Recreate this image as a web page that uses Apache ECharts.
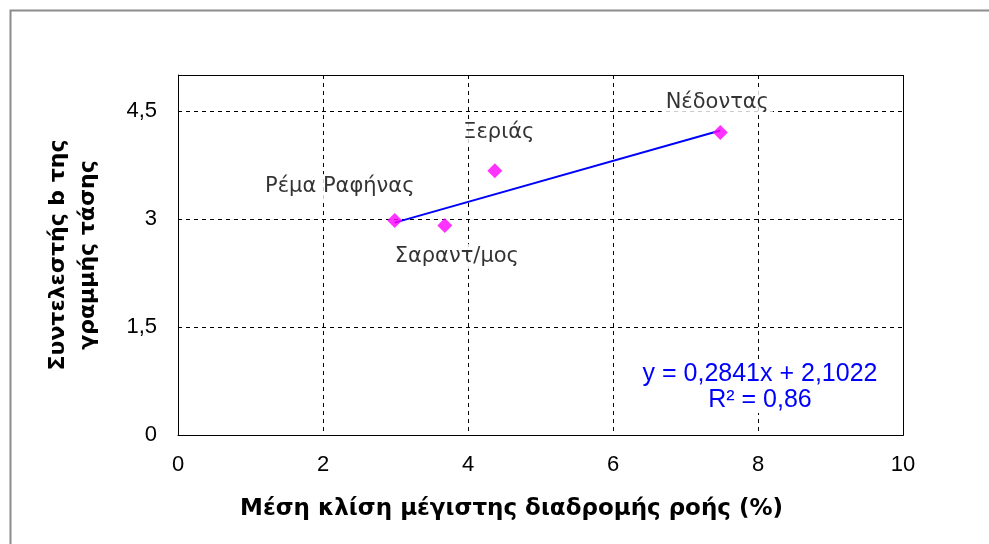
<!DOCTYPE html>
<html>
<head>
<meta charset="utf-8">
<script src="https://cdn.jsdelivr.net/npm/echarts@6/dist/echarts.min.js"></script>
<style>
  html, body { margin: 0; padding: 0; background: #fff; }
  #chart { width: 989px; height: 544px; }
</style>
</head>
<body>
<div id="chart"></div>
<script>
// stations (slope %, coefficient b)
const names = ["Ρέμα Ραφήνας", "Σαραντ/μος", "Ξεριάς", "Νέδοντας"];
const slopes = [2.99, 3.68, 4.37, 7.48];
const coefB = [2.98, 2.91, 3.67, 4.20];
// label placement around each point
const labelPos = ["top", "bottom", "top", "top"];
const labelOff = [[-55, 0], [12, 0], [4, 0], [-3, 0]];
const labelDist = [14, 11, 18, 10];
// trend line ends
const trendX = [2.99, 7.48];
const trendY = [2.95, 4.23];

const chart = echarts.init(document.getElementById("chart"));

const fmt = (v) => (v === 5 ? "" : String(v).replace(".", ","));

const option = {
  animation: false,
  backgroundColor: "#fff",
  grid: { left: 178, top: 75, right: 86, bottom: 109 },
  xAxis: {
    type: "value",
    min: 0,
    max: 10,
    interval: 2,
    name: "Μέση κλίση μέγιστης διαδρομής ροής (%)",
    nameLocation: "middle",
    nameGap: 63,
    nameTextStyle: { fontFamily: "DejaVu Sans", fontWeight: "bold", fontSize: 23, color: "#000", padding: [0, 58, 0, 0] },
    axisLine: { show: true, lineStyle: { color: "#000", width: 1 } },
    axisTick: { show: false },
    axisLabel: { color: "#000", fontSize: 22, fontFamily: "Liberation Sans", margin: 19, formatter: fmt },
    splitLine: { show: true, lineStyle: { color: "#000", type: [4, 4], width: 1 } }
  },
  yAxis: {
    type: "value",
    min: 0,
    max: 5,
    interval: 1.5,
    name: "Συντελεστής b της\nγραμμής τάσης",
    nameLocation: "middle",
    nameGap: 75,
    nameTextStyle: { fontFamily: "DejaVu Sans", fontWeight: "bold", fontSize: 22, color: "#000", lineHeight: 30 },
    axisLine: { show: true, lineStyle: { color: "#000", width: 1 } },
    axisTick: { show: false },
    axisLabel: { color: "#000", fontSize: 22, fontFamily: "Liberation Sans", margin: 21, formatter: fmt },
    splitLine: { show: true, lineStyle: { color: "#000", type: [4, 4], width: 1 } }
  },
  graphic: [
    { type: "rect", shape: { x: 10.5, y: 10.5, width: 1000, height: 600 }, style: { fill: null, stroke: "#8c8c8c", lineWidth: 2 }, z: 0 },
    { type: "rect", shape: { x: 178.5, y: 75.5, width: 725, height: 360 }, style: { fill: null, stroke: "#000", lineWidth: 1 }, z: 10 },
    {
      type: "text", x: 760, y: 361, z: 20,
      style: {
        text: "y = 0,2841x + 2,1022\nR² = 0,86",
        align: "center",
        font: "25px 'Liberation Sans'", fill: "#0000ff", lineHeight: 26,
        backgroundColor: "#fff", padding: [0, 2]
      }
    }
  ],
  series: [
    {
      type: "line",
      data: trendX.map((x, i) => [x, trendY[i]]),
      symbol: "none",
      lineStyle: { color: "#0000ff", width: 2 },
      z: 3
    },
    {
      type: "scatter",
      data: slopes.map((x, i) => ({
        value: [x, coefB[i]],
        name: names[i],
        label: { position: labelPos[i], offset: labelOff[i], distance: labelDist[i] }
      })),
      symbol: "diamond",
      symbolSize: 15,
      itemStyle: { color: "#ff00ff" },
      z: 4,
      label: {
        show: true,
        formatter: "{b}",
        color: "#000",
        fontFamily: "DejaVu Sans",
        fontSize: 21,
        backgroundColor: "#fff",
        padding: [2, 4]
      }
    }
  ]
};

chart.setOption(option);
</script>
</body>
</html>
